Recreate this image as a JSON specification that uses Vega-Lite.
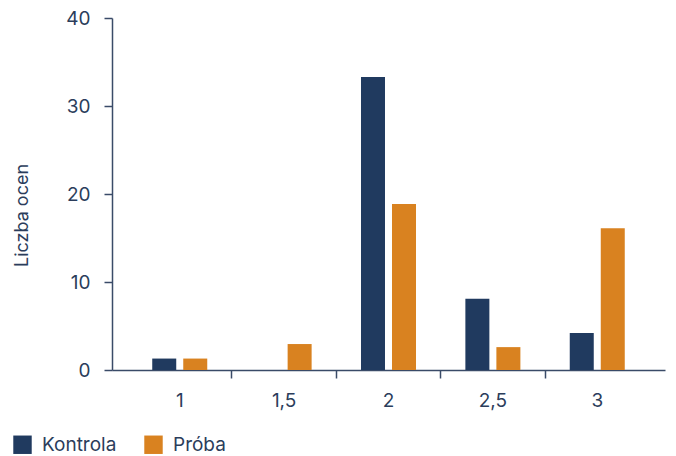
{
  "$schema": "https://vega.github.io/schema/vega-lite/v6.json",
  "width": 553,
  "height": 352,
  "autosize": {"type": "none"},
  "padding": {"left": 112, "top": 18, "right": 11, "bottom": 86},
  "background": "white",
  "config": {
    "view": {"stroke": null},
    "font": "Inter",
    "axis": {"labelColor": "#2b3d5b", "titleColor": "#2b3d5b", "domainColor": "#3a4b68", "tickColor": "#3a4b68", "domainWidth": 1.5, "tickWidth": 1.5, "grid": false},
    "legend": {"labelColor": "#2b3d5b"}
  },
  "data": {
    "values": [
      {"ocena": "1", "grupa": "Kontrola", "liczba": 1.3},
      {"ocena": "1,5", "grupa": "Kontrola", "liczba": 0},
      {"ocena": "2", "grupa": "Kontrola", "liczba": 33.3},
      {"ocena": "2,5", "grupa": "Kontrola", "liczba": 8.1},
      {"ocena": "3", "grupa": "Kontrola", "liczba": 4.2},
      {"ocena": "1", "grupa": "Próba", "liczba": 1.3},
      {"ocena": "1,5", "grupa": "Próba", "liczba": 2.95},
      {"ocena": "2", "grupa": "Próba", "liczba": 18.85},
      {"ocena": "2,5", "grupa": "Próba", "liczba": 2.6},
      {"ocena": "3", "grupa": "Próba", "liczba": 16.1}
    ]
  },
  "mark": {"type": "bar"},
  "encoding": {
    "x": {
      "field": "ocena",
      "type": "ordinal",
      "sort": ["1", "1,5", "2", "2,5", "3"],
      "scale": {"paddingInner": 0, "paddingOuter": 0.149},
      "axis": {
        "title": null,
        "labelAngle": 0,
        "labelFontSize": 19,
        "labelPadding": 13,
        "tickSize": 8,
        "bandPosition": 0,
        "tickOpacity": {"condition": {"test": "datum.value === '1'", "value": 0}, "value": 1}
      }
    },
    "xOffset": {
      "field": "grupa",
      "sort": ["Kontrola", "Próba"],
      "scale": {"paddingInner": 0.226, "paddingOuter": 0.796}
    },
    "y": {
      "field": "liczba",
      "type": "quantitative",
      "scale": {"domain": [0, 40], "nice": false},
      "axis": {
        "title": "Liczba ocen",
        "titleFontSize": 18,
        "titleFontWeight": "normal",
        "titleX": -90,
        "titleY": 197,
        "titleAlign": "center",
        "titleBaseline": "middle",
        "titleAngle": -90,
        "values": [0, 10, 20, 30, 40],
        "labelFontSize": 19,
        "labelPadding": 14,
        "tickSize": 8
      }
    },
    "color": {
      "field": "grupa",
      "type": "nominal",
      "sort": ["Kontrola", "Próba"],
      "scale": {"domain": ["Kontrola", "Próba"], "range": ["#203a5f", "#d98220"]},
      "legend": {
        "title": null,
        "orient": "none",
        "legendX": -99,
        "legendY": 417,
        "direction": "horizontal",
        "symbolType": "square",
        "symbolSize": 340,
        "symbolStrokeWidth": 0,
        "symbolOpacity": 1,
        "labelFontSize": 19,
        "labelOffset": 10,
        "columnPadding": 27,
        "padding": 0
      }
    }
  }
}
